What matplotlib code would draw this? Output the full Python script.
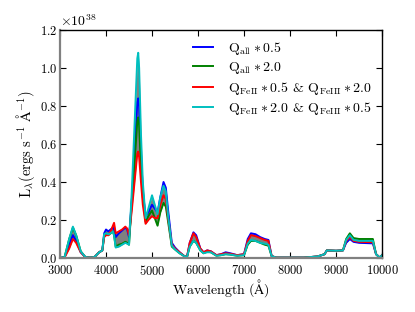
import numpy as np
import matplotlib
matplotlib.use("Agg")
import matplotlib.pyplot as plt

plt.rcParams['font.family'] = ['cmr10', 'DejaVu Serif']
plt.rcParams['mathtext.fontset'] = 'cm'
plt.rcParams['axes.unicode_minus'] = False
plt.rcParams['axes.formatter.use_mathtext'] = True

wavelength = [3000, 3100, 3200, 3280, 3350, 3450, 3550, 3650, 3750, 3850, 3920, 3960,
              4000, 4050, 4100, 4150, 4175, 4210, 4280, 4350, 4420, 4460, 4500, 4560,
              4620, 4680, 4700, 4720, 4760, 4800, 4860, 4920, 5000, 5060, 5120, 5180,
              5250, 5300, 5350, 5430, 5500, 5600, 5700, 5760, 5820, 5900, 5960, 6050,
              6120, 6200, 6280, 6400, 6500, 6600, 6700, 6850, 7000, 7080, 7150, 7250,
              7350, 7450, 7530, 7600, 7700, 8000, 8300, 8600, 8750, 8800, 9000, 9150,
              9220, 9300, 9380, 9500, 9800, 9870, 9950, 10000]

q_all_05 = [0, 0.005, 0.07, 0.12, 0.09, 0.03, 0.005, 0.002, 0.005, 0.03, 0.04, 0.13,
            0.15, 0.14, 0.15, 0.16, 0.15, 0.11, 0.13, 0.145, 0.16, 0.15, 0.11, 0.30,
            0.55, 0.82, 0.84, 0.80, 0.55, 0.35, 0.22, 0.24, 0.28, 0.26, 0.24, 0.32,
            0.40, 0.37, 0.25, 0.08, 0.055, 0.03, 0.01, 0.005, 0.08, 0.135, 0.12, 0.05,
            0.03, 0.04, 0.035, 0.015, 0.02, 0.03, 0.025, 0.015, 0.02, 0.10, 0.13, 0.125,
            0.11, 0.10, 0.095, 0.01, 0.002, 0.002, 0.002, 0.008, 0.02, 0.04, 0.038, 0.04,
            0.08, 0.10, 0.085, 0.08, 0.077, 0.02, 0.002, 0.015]

q_all_20 = [0, 0.005, 0.10, 0.16, 0.12, 0.035, 0.005, 0.002, 0.005, 0.03, 0.04, 0.12,
            0.13, 0.12, 0.13, 0.14, 0.12, 0.06, 0.07, 0.075, 0.085, 0.08, 0.07, 0.30,
            0.50, 0.72, 0.74, 0.70, 0.48, 0.32, 0.19, 0.22, 0.25, 0.21, 0.17, 0.24,
            0.29, 0.27, 0.19, 0.06, 0.045, 0.025, 0.01, 0.005, 0.06, 0.09, 0.08, 0.04,
            0.025, 0.035, 0.03, 0.012, 0.015, 0.02, 0.018, 0.012, 0.015, 0.07, 0.09, 0.09,
            0.08, 0.07, 0.065, 0.01, 0.002, 0.002, 0.002, 0.008, 0.02, 0.04, 0.038, 0.04,
            0.10, 0.13, 0.105, 0.10, 0.10, 0.02, 0.002, 0.015]

q_fe_a = [0, 0.003, 0.05, 0.10, 0.08, 0.03, 0.005, 0.002, 0.005, 0.03, 0.04, 0.11,
          0.12, 0.12, 0.14, 0.17, 0.185, 0.13, 0.14, 0.15, 0.165, 0.155, 0.12, 0.25,
          0.40, 0.55, 0.56, 0.53, 0.40, 0.28, 0.18, 0.20, 0.22, 0.21, 0.21, 0.28,
          0.33, 0.31, 0.21, 0.07, 0.05, 0.03, 0.01, 0.005, 0.08, 0.13, 0.11, 0.05,
          0.03, 0.04, 0.035, 0.015, 0.02, 0.025, 0.022, 0.015, 0.02, 0.09, 0.12, 0.115,
          0.105, 0.095, 0.09, 0.01, 0.002, 0.002, 0.002, 0.008, 0.02, 0.04, 0.038, 0.04,
          0.09, 0.11, 0.09, 0.085, 0.083, 0.02, 0.002, 0.015]

q_fe_b = [0, 0.005, 0.10, 0.165, 0.12, 0.035, 0.005, 0.002, 0.005, 0.03, 0.04, 0.125,
          0.13, 0.125, 0.13, 0.14, 0.12, 0.055, 0.06, 0.07, 0.08, 0.075, 0.07, 0.35,
          0.70, 1.05, 1.08, 1.00, 0.65, 0.40, 0.21, 0.26, 0.33, 0.28, 0.23, 0.32,
          0.38, 0.35, 0.22, 0.065, 0.045, 0.025, 0.01, 0.005, 0.06, 0.09, 0.08, 0.04,
          0.025, 0.03, 0.03, 0.012, 0.015, 0.02, 0.018, 0.012, 0.015, 0.075, 0.095, 0.09,
          0.08, 0.075, 0.07, 0.01, 0.002, 0.002, 0.002, 0.008, 0.02, 0.04, 0.038, 0.04,
          0.095, 0.12, 0.095, 0.09, 0.09, 0.02, 0.002, 0.015]

labels = [r'$\mathrm{Q_{all}} \ast 0.5$',
          r'$\mathrm{Q_{all}} \ast 2.0$',
          r'$\mathrm{Q_{FeII}} \ast 0.5$ & $\mathrm{Q_{FeIII}} \ast 2.0$',
          r'$\mathrm{Q_{FeII}} \ast 2.0$ & $\mathrm{Q_{FeIII}} \ast 0.5$']
colors = ['#0000ff', '#008000', '#ff0000', '#00bfbf']

scale = 1e38
wl = np.array(wavelength)
series = [np.array(s) * scale for s in (q_all_05, q_all_20, q_fe_a, q_fe_b)]
stack = np.vstack(series)

fig = plt.figure(figsize=(4.15, 3.12), dpi=100)
ax = fig.add_axes([0.1446, 0.1731, 0.776, 0.7308])

ax.fill_between(wl, stack.min(axis=0), stack.max(axis=0), color='#808080', lw=0, zorder=1)
for s, c, lab in zip(series, colors, labels):
    ax.plot(wl, s, color=c, lw=1.4, label=lab, zorder=2)

ax.set_xlim(3000, 10000)
ax.set_ylim(0, 1.2e38)
ax.set_xticks(np.arange(3000, 10001, 1000))
ax.set_yticks(np.arange(0, 1.21e38, 0.2e38))
ax.tick_params(direction='in', top=True, right=True, length=4, width=0.8, labelsize=9)
ax.tick_params(axis='x', pad=4)
ax.tick_params(axis='y', pad=2)

for side in ('left', 'bottom'):
    ax.spines[side].set_color('#808080')
    ax.spines[side].set_linewidth(1.6)
for side in ('top', 'right'):
    ax.spines[side].set_color('black')
    ax.spines[side].set_linewidth(1.0)

ax.set_xlabel(r'$\mathrm{Wavelength\ (\AA)}$', fontsize=10, labelpad=0)
ax.set_ylabel(r'$\mathrm{L_{\lambda} (ergs\ s^{-1}\ \AA^{-1})}$', fontsize=10.5, labelpad=2)
ax.yaxis.get_offset_text().set_fontsize(10)

ax.legend(loc='upper right', frameon=False, fontsize=10, handlelength=1.45,
          labelspacing=0.25, borderaxespad=0.3, handletextpad=1.1)

fig.savefig('out.png', dpi=100)
